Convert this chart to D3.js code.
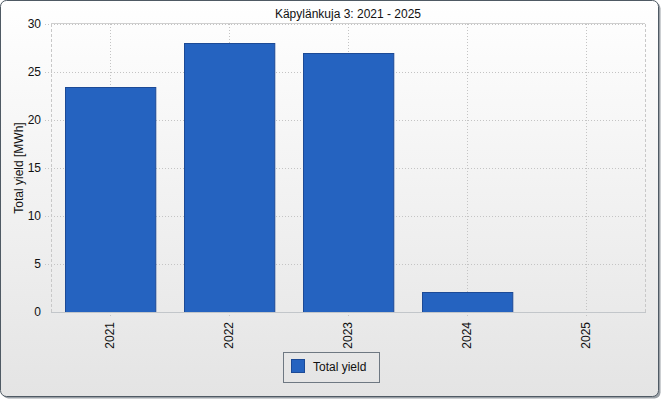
<!DOCTYPE html>
<html>
<head>
<meta charset="utf-8">
<script src="https://cdn.jsdelivr.net/npm/d3@7"></script>
<style>
  body { margin: 0; background: #fff; }
  text { font-family: "Liberation Sans", Arial, sans-serif; fill: #111; }
</style>
</head>
<body>
<div id="chart"></div>
<script>
const years = ['2021', '2022', '2023', '2024', '2025'];
const totalYield = [23.4, 28.0, 27.0, 2.1, 0];
const yTicks = [0, 5, 10, 15, 20, 25, 30];
const chartTitle = 'Käpylänkuja 3: 2021 - 2025';
const yTitle = 'Total yield [MWh]';
const seriesName = 'Total yield';

const width = 662, height = 400;
const plot = { left: 51, top: 24, right: 645, bottom: 312 };

const svg = d3.select('#chart').append('svg')
  .attr('width', width)
  .attr('height', height);

const defs = svg.append('defs');
const grad = defs.append('linearGradient')
  .attr('id', 'bg').attr('x1', 0).attr('y1', 0).attr('x2', 0).attr('y2', 1);
grad.append('stop').attr('offset', '0%').attr('stop-color', '#ffffff');
grad.append('stop').attr('offset', '100%').attr('stop-color', '#e4e4e4');

// panel with shadow
svg.append('rect')
  .attr('x', 2.5).attr('y', 2.5).attr('width', 658).attr('height', 396)
  .attr('rx', 6).attr('fill', '#9aa0a6');
svg.append('rect')
  .attr('x', 0.5).attr('y', 0.5).attr('width', 658).attr('height', 396)
  .attr('rx', 6).attr('fill', 'url(#bg)').attr('stroke', '#4f5a64');

const x = d3.scaleBand().domain(years).range([plot.left, plot.right]).paddingInner(0.24).paddingOuter(0.12);
const xc = d3.scalePoint().domain(years).range([plot.left, plot.right]).padding(0.5);
const y = d3.scaleLinear().domain([0, 30]).range([plot.bottom, plot.top]);

// grid
svg.append('g').selectAll('line')
  .data(yTicks.slice(1))
  .enter().append('line')
  .attr('x1', plot.left - 6).attr('x2', plot.right)
  .attr('y1', d => Math.round(y(d)) + 0.5).attr('y2', d => Math.round(y(d)) + 0.5)
  .attr('stroke', '#c4c4c4').attr('stroke-dasharray', '1,2');

svg.append('g').selectAll('line')
  .data(years)
  .enter().append('line')
  .attr('x1', d => Math.round(xc(d)) + 0.5).attr('x2', d => Math.round(xc(d)) + 0.5)
  .attr('y1', plot.top).attr('y2', plot.bottom + 6)
  .attr('stroke', '#c4c4c4').attr('stroke-dasharray', '1,2');

// plot frame
svg.append('line')
  .attr('x1', plot.left + 0.5).attr('x2', plot.left + 0.5)
  .attr('y1', plot.top).attr('y2', plot.bottom)
  .attr('stroke', '#c8c8c8').attr('stroke-dasharray', '3,2');
svg.append('line')
  .attr('x1', plot.right + 0.5).attr('x2', plot.right + 0.5)
  .attr('y1', plot.top).attr('y2', plot.bottom)
  .attr('stroke', '#c8c8c8').attr('stroke-dasharray', '3,2');
svg.append('line')
  .attr('x1', plot.left).attr('x2', plot.right)
  .attr('y1', plot.top - 0.5).attr('y2', plot.top - 0.5)
  .attr('stroke', '#cfcfcf');

// bars
svg.append('g').selectAll('rect')
  .data(years.map((d, i) => ({ year: d, value: totalYield[i] })).filter(d => d.value > 0))
  .enter().append('rect')
  .attr('x', d => Math.round(x(d.year)) + 0.5)
  .attr('y', d => Math.round(y(d.value)) + 0.5)
  .attr('width', x.bandwidth())
  .attr('height', d => plot.bottom - Math.round(y(d.value)))
  .attr('fill', '#2563c0')
  .attr('stroke', '#1c4a96');

svg.append('line')
  .attr('x1', plot.left).attr('x2', plot.right + 1)
  .attr('y1', plot.bottom + 0.5).attr('y2', plot.bottom + 0.5)
  .attr('stroke', '#c2c6ca');

// y axis labels
svg.append('g').selectAll('text')
  .data(yTicks)
  .enter().append('text')
  .attr('x', 41).attr('y', d => y(d) + 4)
  .attr('text-anchor', 'end')
  .style('font-size', '12px')
  .text(d => d);

svg.append('text')
  .attr('transform', 'translate(23,168) rotate(-90)')
  .attr('text-anchor', 'middle')
  .style('font-size', '12px')
  .text(yTitle);

// x axis labels
svg.append('g').selectAll('text')
  .data(years)
  .enter().append('text')
  .attr('transform', d => `translate(${xc(d) + 4},322) rotate(-90)`)
  .attr('text-anchor', 'end')
  .style('font-size', '12px')
  .text(d => d);

// title
svg.append('text')
  .attr('x', (plot.left + plot.right) / 2).attr('y', 18)
  .attr('text-anchor', 'middle')
  .style('font-size', '12px')
  .text(chartTitle);

// legend
const legend = svg.append('g');
legend.append('rect')
  .attr('x', 283.5).attr('y', 352.5).attr('width', 96).attr('height', 30)
  .attr('fill', 'none').attr('stroke', '#6e7882');
legend.append('rect')
  .attr('x', 291.5).attr('y', 359.5).attr('width', 13).attr('height', 13)
  .attr('fill', '#2563c0').attr('stroke', '#1c4a96');
legend.append('text')
  .attr('x', 313).attr('y', 371)
  .style('font-size', '12px')
  .text(seriesName);
</script>
</body>
</html>
